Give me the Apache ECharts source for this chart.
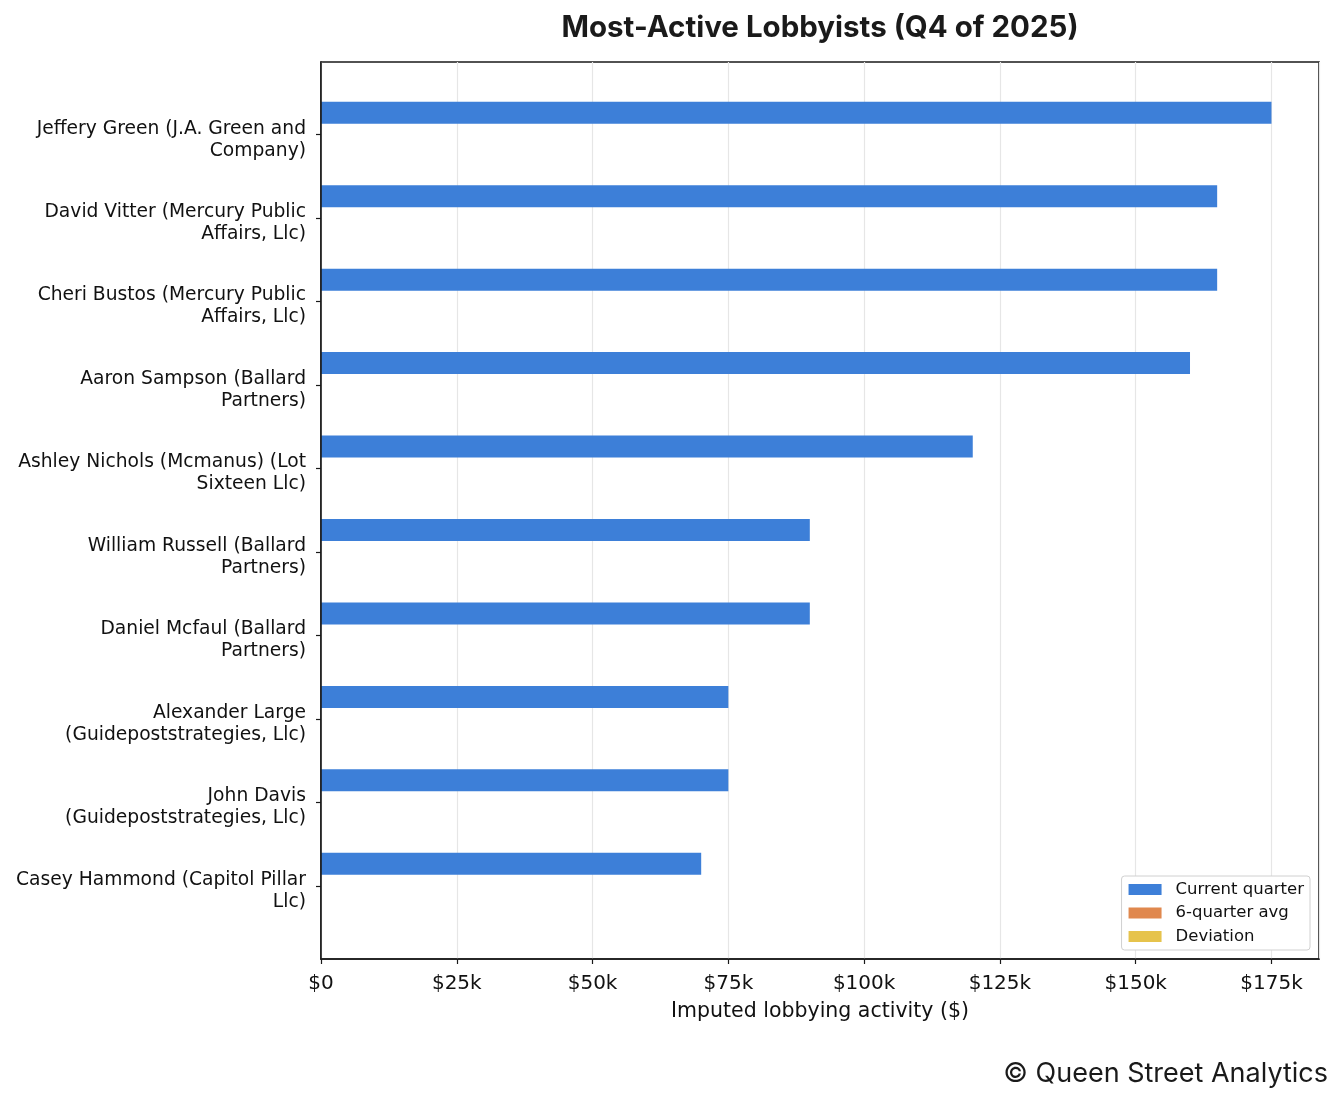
<!DOCTYPE html>
<html>
<head>
<meta charset="utf-8">
<script src="https://cdn.jsdelivr.net/npm/echarts@6/dist/echarts.min.js"></script>
<style>
  html, body { margin: 0; padding: 0; background: #fff; }
  #chart { width: 1344px; height: 1104px; }
</style>
</head>
<body>
<div id="chart"></div>
<script>
// lobbyists, top to bottom
var lobbyists = [
    "Jeffery Green (J.A. Green and\nCompany)",
    "David Vitter (Mercury Public\nAffairs, Llc)",
    "Cheri Bustos (Mercury Public\nAffairs, Llc)",
    "Aaron Sampson (Ballard\nPartners)",
    "Ashley Nichols (Mcmanus) (Lot\nSixteen Llc)",
    "William Russell (Ballard\nPartners)",
    "Daniel Mcfaul (Ballard\nPartners)",
    "Alexander Large\n(Guidepoststrategies, Llc)",
    "John Davis\n(Guidepoststrategies, Llc)",
    "Casey Hammond (Capitol Pillar\nLlc)"
];
var currentQuarter = [175000, 165000, 165000, 160000, 120000, 90000, 90000, 75000, 75000, 70000];
var sixQuarterAvg = [0, 0, 0, 0, 0, 0, 0, 0, 0, 0];
var deviation = [0, 0, 0, 0, 0, 0, 0, 0, 0, 0];

var xMax = 183750;
var labelFont = "'DejaVu Sans', sans-serif";
var spine = { color: "#1a1a1a", width: 1.6 };

var chart = echarts.init(document.getElementById("chart"));

var option = {
    backgroundColor: "#fff",
    animation: false,
    color: ["#3d7fd8", "#e0884e", "#e6c34c"],
    title: {
        text: "Most-Active Lobbyists (Q4 of 2025)",
        left: 815,
        top: 8,
        textAlign: "center",
        textStyle: {
            fontFamily: "Inter",
            fontWeight: "bold",
            fontSize: 29.5,
            color: "#1a1a1a"
        }
    },
    legend: {
        orient: "vertical",
        right: 34,
        bottom: 154,
        z: 10,
        padding: [4.5, 6, 4.5, 7],
        itemWidth: 33,
        itemHeight: 11,
        itemGap: 5.5,
        icon: "rect",
        backgroundColor: "#fff",
        borderColor: "#d0d0d0",
        borderWidth: 1,
        borderRadius: 3,
        textStyle: {
            fontFamily: labelFont,
            fontSize: 16.5,
            lineHeight: 18,
            color: "#111",
            padding: [0, 0, 0, 9]
        },
        data: ["Current quarter", "6-quarter avg", "Deviation"]
    },
    grid: [
        // frame grid
        { left: 321, right: 25, top: 62, bottom: 145, show: true, borderColor: "#1a1a1a", borderWidth: 1.6, backgroundColor: "transparent" },
        // bar grid, inner band so category spacing matches
        { left: 321, right: 25, top: 93, bottom: 176.5 }
    ],
    xAxis: [
        {
            gridIndex: 0,
            type: "value",
            min: 0,
            max: xMax,
            interval: 25000,
            name: "Imputed lobbying activity ($)",
            nameLocation: "middle",
            nameGap: 42,
            nameTextStyle: { fontFamily: labelFont, fontSize: 20.5, color: "#111" },
            axisLine: { show: true, lineStyle: spine },
            axisTick: { show: true, length: 5, lineStyle: { color: "#1a1a1a", width: 1.2 } },
            axisLabel: {
                margin: 15,
                fontFamily: labelFont,
                fontSize: 20,
                color: "#111",
                showMaxLabel: false,
                formatter: function(v) {
                    return v === 0 ? "$0" : "$" + (v / 1000) + "k";
                }
            },
            splitLine: { show: true, lineStyle: { color: "#e6e6e6", width: 1.2 } }
        },
        {
            gridIndex: 1,
            type: "value",
            min: 0,
            max: xMax,
            show: false
        }
    ],
    yAxis: [
        {
            gridIndex: 0,
            type: "value",
            min: 0,
            max: 1,
            z: 5,
            axisLine: { show: true, lineStyle: spine },
            axisTick: { show: false },
            axisLabel: { show: false },
            splitLine: { show: false }
        },
        {
            gridIndex: 1,
            type: "category",
            inverse: true,
            data: lobbyists,
            axisLine: { show: false },
            axisTick: { show: true, alignWithLabel: true, length: 5, lineStyle: { color: "#1a1a1a", width: 1.2 } },
            axisLabel: {
                margin: 15,
                align: "right",
                // wrapped label sits a little below its tick, as in the source
                formatter: function(v) {
                    return "{e| }\n" + v.split("\n").map(function(l) { return "{t|" + l + "}"; }).join("\n");
                },
                rich: {
                    t: { fontFamily: labelFont, fontSize: 18.7, lineHeight: 22, color: "#111", align: "right" },
                    e: { fontSize: 2, lineHeight: 10 }
                }
            },
            splitLine: { show: false }
        }
    ],
    series: [
        { name: "Current quarter", type: "bar", xAxisIndex: 1, yAxisIndex: 1, barWidth: 22, barGap: "0%", data: currentQuarter },
        { name: "6-quarter avg", type: "bar", xAxisIndex: 1, yAxisIndex: 1, barWidth: 22, barGap: "0%", data: sixQuarterAvg },
        { name: "Deviation", type: "bar", xAxisIndex: 1, yAxisIndex: 1, barWidth: 22, barGap: "0%", data: deviation }
    ],
    graphic: [
        {
            type: "text",
            right: 16,
            top: 1060,
            style: {
                text: "\u00a9 Queen Street Analytics",
                fontFamily: "Inter",
                fontSize: 27,
                fill: "#1a1a1a"
            }
        }
    ]
};

chart.setOption(option);
</script>
</body>
</html>
